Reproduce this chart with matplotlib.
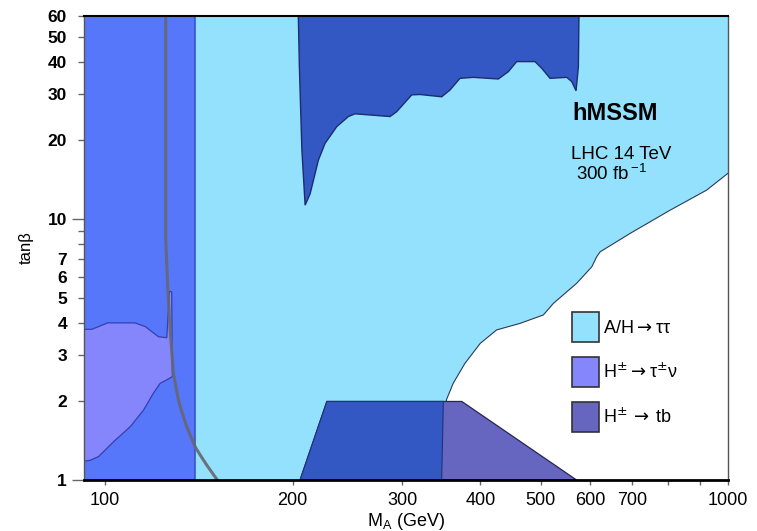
import matplotlib
matplotlib.use("Agg")
import matplotlib.pyplot as plt
from matplotlib.patches import Patch
from matplotlib.ticker import FixedLocator, FixedFormatter

plt.rcParams['font.family'] = ['Liberation Sans', 'DejaVu Sans']
plt.rcParams['mathtext.fontset'] = 'dejavusans'

# axis ranges
ma_min, ma_max = 92.5, 1000
tb_min, tb_max = 1, 60

# low-mass band, excluded over the full tanb range
low_band_edge = 139.5

# A/H -> tautau reach: lower edge of the excluded region (right to left)
tautau_x = [1000, 923, 806, 696, 623, 615, 604, 571, 524, 505, 463, 425, 400, 378, 362, 353, 347]
tautau_y = [15.0, 12.9, 10.8, 8.81, 7.49, 7.17, 6.56, 5.67, 4.75, 4.29, 3.98, 3.76, 3.34, 2.80, 2.35, 2.03, 1.0]

# high-tanb region (dark blue contour)
blob_x = [204.2, 205.0, 206.9, 209.4, 213.3, 219.9, 225.4, 235.4, 245.7, 251.8, 286.6, 293.8,
          310.5, 320.2, 346.8, 357.6, 371.1, 389.8, 427.6, 443.7, 457.6, 489.7, 502.0, 517.6,
          550.6, 560.9, 569.9, 574.8, 576.0]
blob_y = [60, 38.3, 18.4, 11.3, 12.5, 16.8, 19.5, 22.6, 24.7, 25.3, 24.7, 25.8,
          29.9, 30.0, 29.4, 31.2, 34.6, 34.9, 34.4, 36.7, 40.1, 40.1, 37.8, 34.6,
          34.9, 33.6, 31.0, 38.3, 60]

# H+ -> tau nu contour
taunu_x = [92.5, 95.2, 97.6, 100.9, 111.7, 116.0, 121.8, 125.6, 126.8, 127.9, 128.2,
           125.6, 122.6, 119.5, 115.2, 109.7, 103.1, 97.6, 94.6, 92.5]
taunu_y = [3.78, 3.78, 3.87, 4.0, 4.0, 3.87, 3.54, 3.51, 5.27, 5.27, 2.49,
           2.42, 2.35, 2.15, 1.85, 1.60, 1.40, 1.23, 1.19, 1.18]

# H+ -> tb trapezoid and the part overlapping the tautau reach
tbq_x = [205.5, 226.9, 373.6, 571.0]
tbq_y = [1, 2, 2, 1]
overlap_x = [205.5, 226.9, 349.0, 346.8]
overlap_y = [1, 2, 2, 1]

# grey contour line
curve_x = [125.1, 125.1, 126.1, 126.7, 127.5, 128.7, 131.1, 133.0, 135.2, 139.5, 142.0, 145.6, 151.4]
curve_y = [60, 8.31, 5.35, 4.35, 3.44, 2.56, 2.03, 1.80, 1.60, 1.34, 1.25, 1.14, 1.0]

x_ticks = [100, 200, 300, 400, 500, 600, 700, 800, 900, 1000]
x_labels = ['100', '200', '300', '400', '500', '600', '700', '', '', '1000']
y_major = [1, 10]
y_minor = [2, 3, 4, 5, 6, 7, 8, 9, 20, 30, 40, 50, 60]
y_minor_labels = ['2', '3', '4', '5', '6', '7', '', '', '20', '30', '40', '50', '60']

c_light = '#93e1fd'
c_band = '#5777fb'
c_taunu = '#8686fc'
c_dark = '#3358c3'
c_tb = '#6665c0'

fig = plt.figure(figsize=(7.57, 5.31), dpi=100)
ax = fig.add_axes([0.111, 0.096, 0.851, 0.874])
ax.set_xscale('log')
ax.set_yscale('log')

ax.fill([ma_min, ma_min, ma_max] + tautau_x, [tb_min, tb_max, tb_max] + tautau_y,
        color=c_light, lw=0, zorder=1)
ax.plot(tautau_x, tautau_y, color='#2a3a55', lw=0.8, zorder=1.5)
ax.fill([ma_min, low_band_edge, low_band_edge, ma_min], [tb_min, tb_min, tb_max, tb_max],
        facecolor=c_band, edgecolor='#3a55c8', lw=1.2, zorder=2)
ax.fill(taunu_x, taunu_y, facecolor=c_taunu, edgecolor='#3240b0', lw=0.9, zorder=3)
ax.fill(blob_x, blob_y, facecolor=c_dark, edgecolor='#1c2c6e', lw=1.0, zorder=3)
ax.fill(tbq_x, tbq_y, facecolor=c_tb, edgecolor='#262650', lw=0.9, zorder=3)
ax.fill(overlap_x, overlap_y, facecolor=c_dark, edgecolor='#23307a', lw=0.8, zorder=3.5)
ax.plot(curve_x, curve_y, color='#666670', lw=2.2, alpha=0.9, zorder=4)

ax.set_xlim(ma_min, ma_max)
ax.set_ylim(tb_min, tb_max)

ax.xaxis.set_major_locator(FixedLocator(x_ticks))
ax.xaxis.set_major_formatter(FixedFormatter(x_labels))
ax.xaxis.set_minor_locator(FixedLocator([]))
ax.yaxis.set_major_locator(FixedLocator(y_major))
ax.yaxis.set_major_formatter(FixedFormatter(['1', '10']))
ax.yaxis.set_minor_locator(FixedLocator(y_minor))
ax.yaxis.set_minor_formatter(FixedFormatter(y_minor_labels))

ax.tick_params(axis='x', which='major', direction='out', length=3.5, width=1.0,
               color='#666666', pad=4.8, labelsize=13)
ax.tick_params(axis='y', which='major', direction='out', length=8.6, width=1.0,
               color='#666666', pad=3.6, labelsize=12.5)
ax.tick_params(axis='y', which='minor', direction='out', length=4.3, width=1.0,
               color='#666666', pad=7.9, labelsize=12.5)
for lab in ax.get_yticklabels(which='both'):
    lab.set_fontweight('bold')

for side in ['left', 'right']:
    ax.spines[side].set_color('#555555')
    ax.spines[side].set_linewidth(1.0)
ax.spines['top'].set_linewidth(1.5)
ax.spines['bottom'].set_linewidth(2.0)
for sp in ax.spines.values():
    sp.set_zorder(6)

ax.set_xlabel('M$_\\mathregular{A}$ (GeV)', fontsize=13, labelpad=2)
ax.set_ylabel('tanβ', fontsize=12, labelpad=10)

ax.text(0.825, 0.790, 'hMSSM', transform=ax.transAxes, ha='center', va='center',
        fontsize=17, fontweight='bold', zorder=5)
ax.text(0.834, 0.702, 'LHC 14 TeV', transform=ax.transAxes, ha='center', va='center',
        fontsize=13.5, zorder=5)
ax.text(0.818, 0.660, '300 fb$^{\\,\\mathregular{-1}}$', transform=ax.transAxes,
        ha='center', va='center', fontsize=13.5, zorder=5)

handles = [Patch(facecolor=c_light, edgecolor='#333333', lw=1.2),
           Patch(facecolor=c_taunu, edgecolor='#333333', lw=1.2),
           Patch(facecolor=c_tb, edgecolor='#333333', lw=1.2)]
labels = ['A/H$\\rightarrow$ττ',
          'H$^{\\pm}$$\\rightarrow$τ$^{\\pm}$ν',
          'H$^{\\pm}$$\\,\\rightarrow\\,$tb']
leg = ax.legend(handles, labels, loc='upper left', bbox_to_anchor=(0.757, 0.362),
                frameon=False, fontsize=13, borderpad=0, borderaxespad=0,
                handlelength=1.5, handleheight=2.18, handletextpad=0.25, labelspacing=0.83)
leg.set_zorder(7)

fig.savefig('out.png', dpi=100)
